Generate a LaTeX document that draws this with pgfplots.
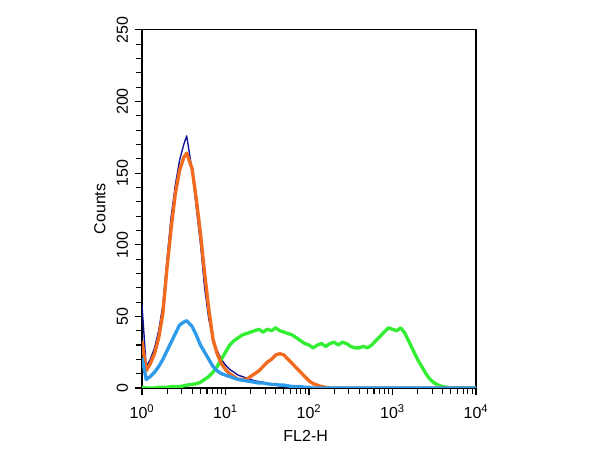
\documentclass[border=0pt]{standalone}
\usepackage{fontspec}
\setmainfont{Liberation Sans}
\usepackage{pgfplots}
\usepackage{pgfplotstable}
\pgfplotsset{compat=1.18}
\definecolor{cnavy}{HTML}{14149A}
\definecolor{corange}{HTML}{F26A1E}
\definecolor{cblue}{HTML}{2E9BEA}
\definecolor{cgreen}{HTML}{33EE33}
\pgfplotstableread{
x navy orange blue green
1.000 58 33 21 0.5
1.122 15 12 6 0
1.259 20 17 8 0
1.413 28 24 11 0
1.585 40 35 15 0.5
1.778 58 52 20 0.5
1.995 90 84 26 0.5
2.239 120 112 32 1
2.512 142 136 38 1
2.818 159 152 44 1
3.162 170 161 46 1.5
3.430 176 164 47 2
3.981 152 153 43 2.5
4.467 126 132 37 3
5.012 101 108 30 4
5.623 70 80 25 6
6.310 48 55 20 8
7.079 34 34 15 11
7.943 26 24 12 15
8.913 20 17 10 20
10.00 16 13 9 25
11.22 13 10 8 30
12.59 11 8 7 33
14.13 9 6 6 35
15.85 8 6 5.5 37
17.78 7 6 5 38
19.95 6 8 4.5 39
22.39 5 10 4 40
25.12 4.5 12 3.5 41
28.18 4 15 3.5 39
31.62 3 18 3 41
35.48 2.5 20 2.5 40
39.81 2 23 2.5 42
44.67 1.5 24 2 40
50.12 1 23 2 39
56.23 0.5 20 1.5 38
63.10 0 17 1 37
70.79 0 14 1 35
79.43 0 11 1 33
89.13 0 8 0.5 31
100.0 0 5 0.5 30
112.2 0 3 0 28
125.9 0 2 0 30
141.3 0 1 0 31
158.5 0 0.5 0 29
177.8 0 0 0 31
199.5 0 0 0 32
223.9 0 0 0 30
251.2 0 0 0 32
281.8 0 0 0 31
316.2 0 0 0 29
354.8 0 0 0 28
398.1 0 0 0 28
446.7 0 0 0 29
501.2 0 0 0 28
562.3 0 0 0 30
631.0 0 0 0 33
707.9 0 0 0 36
794.3 0 0 0 39
891.3 0 0 0 42
1000 0 0 0 41
1122 0 0 0 40
1259 0 0 0 42
1413 0 0 0 38
1585 0 0 0 32
1778 0 0 0 26
1995 0 0 0 20
2239 0 0 0 15
2512 0 0 0 10
2818 0 0 0 6
3162 0 0 0 3.5
3548 0 0 0 2
3981 0 0 0 1
4467 0 0 0 0.5
5012 0 0 0 0
6310 0 0 0 0
7943 0 0 0 0
10000 0 0 0 0
}\datatable
\begin{document}
\begin{tikzpicture}
\path[use as bounding box] (0,0) rectangle (432pt,324pt);
\begin{axis}[
  at={(102.24pt,44.64pt)}, anchor=south west,
  scale only axis, width=240.5pt, height=257.8pt,
  xmode=log, xmin=1, xmax=10000,
  ymin=0, ymax=250,
  xtick={1,10,100,1000,10000},
  xticklabels={10\textsuperscript{0},10\textsuperscript{1},10\textsuperscript{2},10\textsuperscript{3},10\textsuperscript{4}},
  ytick={0,50,100,150,200,250},
  minor y tick num=4,
  tick align=outside,
  xtick pos=bottom, ytick pos=left,
  major tick length=5pt, minor tick length=4pt,
  tick style={black, line width=0.8pt},
  axis line style={black, line width=0.8pt},
  /pgf/number format/assume math mode=true,
  tick label style={font=\fontsize{11.5}{13}\selectfont},
  yticklabel style={rotate=90, anchor=south, yshift=1.5pt},
  xticklabel style={anchor=north, yshift=-3.5pt},
  xlabel={FL2-H}, ylabel={Counts},
  label style={font=\fontsize{11.5}{13}\selectfont},
  xlabel style={at={(axis description cs:0.49,-0.134)}, anchor=center},
  ylabel style={at={(axis description cs:-0.126,0.5)}, anchor=center, rotate=0},
  clip=true,
  every axis plot/.append style={line join=round},
]
\addplot[cnavy, line width=1pt] table[x=x, y=navy] {\datatable};
\addplot[cgreen, line width=2.4pt] table[x=x, y=green] {\datatable};
\addplot[corange, line width=2.4pt] table[x=x, y=orange] {\datatable};
\addplot[cblue, line width=2.4pt] table[x=x, y=blue] {\datatable};
\end{axis}
\end{tikzpicture}
\end{document}
